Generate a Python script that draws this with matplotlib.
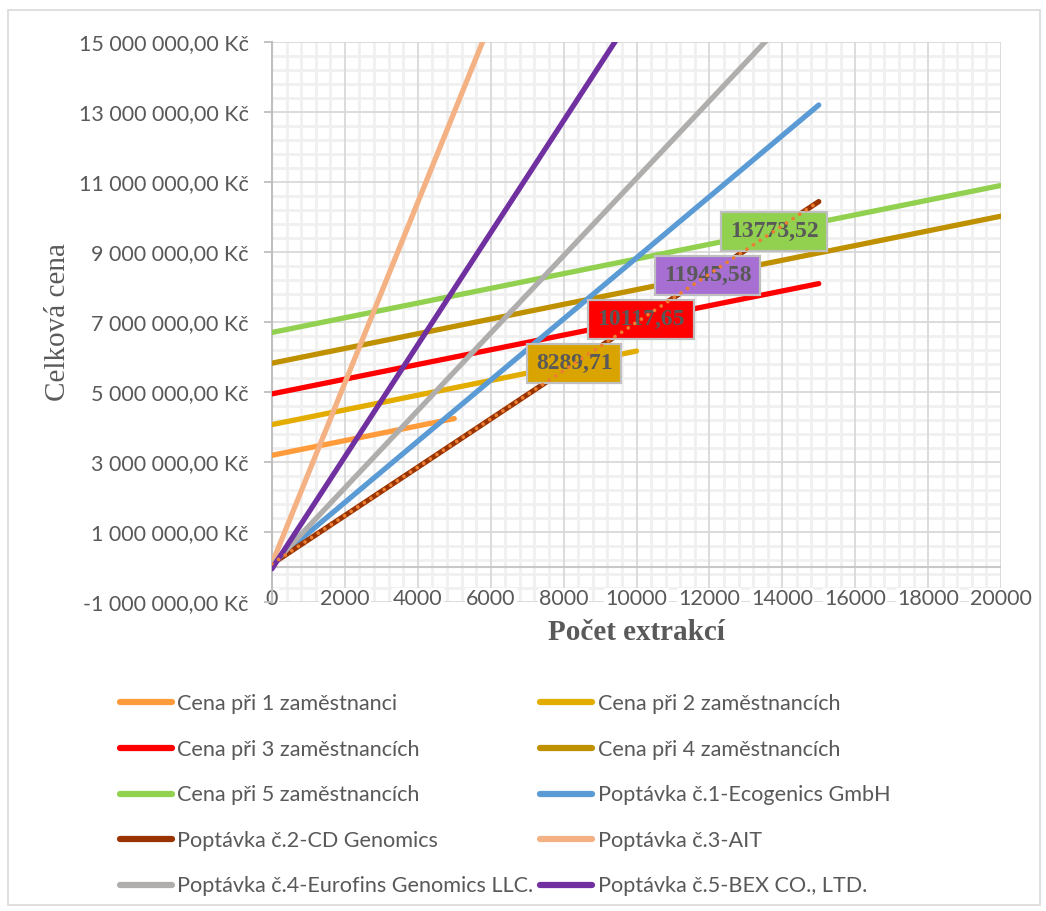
import matplotlib
matplotlib.use("Agg")
import matplotlib.pyplot as plt
import numpy as np
from matplotlib.ticker import FuncFormatter
from matplotlib.lines import Line2D
from matplotlib.patches import Rectangle

# ---- data -------------------------------------------------------------
names = [
    "Cena při 1 zaměstnanci",
    "Cena při 2 zaměstnancích",
    "Cena při 3 zaměstnancích",
    "Cena při 4 zaměstnancích",
    "Cena při 5 zaměstnancích",
    "Poptávka č.1-Ecogenics GmbH",
    "Poptávka č.2-CD Genomics",
    "Poptávka č.3-AIT",
    "Poptávka č.4-Eurofins Genomics LLC.",
    "Poptávka č.5-BEX CO., LTD.",
]
colors = ["#FF9B3B", "#E2AC00", "#FF0000", "#BF9000", "#92D050",
          "#5B9BD5", "#993300", "#F4B183", "#B0AEAC", "#7030A0"]

emp1_x = [0, 5000]
emp1_y = [3_191_650, 4_241_650]
emp2_x = [0, 10000]
emp2_y = [4_069_060, 6_169_060]
emp3_x = [0, 15000]
emp3_y = [4_946_470, 8_096_470]
emp4_x = [0, 20000]
emp4_y = [5_823_880, 10_023_880]
emp5_x = [0, 20000]
emp5_y = [6_701_290, 10_901_290]
eco_x = [0, 15000]
eco_y = [100_000, 13_200_000]
cd_x = [0, 15000]
cd_y = [90_000, 10_440_000]
ait_x = [0, 6000]
ait_y = [100_000, 15_580_000]
euro_x = [0, 15000]
euro_y = [50_000, 16_630_000]
bex_x = [0, 10000]
bex_y = [-50_000, 15_950_000]

break_even = [8289.71, 10117.65, 11945.58, 13773.52]
break_even_text = ["8289,71", "10117,65", "11945,58", "13773,52"]
break_even_fill = ["#D9A400", "#FF0000", "#A66FD1", "#92D050"]

x_ticks = list(range(0, 20001, 2000))
y_ticks = list(range(-1_000_000, 15_000_001, 2_000_000))

# ---- styling ----------------------------------------------------------
SANS = ["Lato", "DejaVu Sans"]
SERIF = ["Liberation Serif", "DejaVu Serif"]
TXT = "#595959"

W, H = 1046, 911
fig = plt.figure(figsize=(W / 100, H / 100), dpi=100)
fig.patch.set_facecolor("white")

# chart-area border
fig.add_artist(Rectangle((8 / W, 1 - 905 / H), (1040 - 8) / W, (905 - 10) / H,
                         transform=fig.transFigure, fill=False,
                         edgecolor="#D9D9D9", linewidth=1.2))

ax = fig.add_axes([272 / W, 1 - 602 / H, 729 / W, 560 / H])
ax.set_xlim(0, 20000)
ax.set_ylim(-1_000_000, 15_000_000)
ax.set_axisbelow(True)

# grid lines drawn as separate artists so tick labels stay on top of them
for xv in np.arange(0, 20001, 400):
    if xv % 2000:
        ax.axvline(xv, color="#F0F0F0", linewidth=2.0, zorder=0.1)
for yv in np.arange(-1_000_000, 15_000_001, 400_000):
    if (yv + 1_000_000) % 2_000_000:
        ax.axhline(yv, color="#F0F0F0", linewidth=2.0, zorder=0.1)
for xv in x_ticks:
    ax.axvline(xv, color="#D9D9D9", linewidth=1.3, zorder=0.2)
for yv in y_ticks:
    ax.axhline(yv, color="#D9D9D9", linewidth=1.3, zorder=0.2)
ax.axhline(0, color="#C8C8C8", linewidth=1.5, zorder=0.3)

for s in ["top", "right", "bottom"]:
    ax.spines[s].set_visible(False)
ax.spines["left"].set_color("#BFBFBF")
ax.spines["left"].set_linewidth(1.5)


def czk(v, _):
    s = f"{abs(v):,.2f}".replace(",", " ").replace(".", ",")
    return ("-" if v < 0 else "") + s + " Kč"


ax.set_yticks(y_ticks)
ax.yaxis.set_major_formatter(FuncFormatter(czk))
ax.set_xticks(x_ticks)
ax.set_xticklabels([str(t) for t in x_ticks])
ax.tick_params(axis="y", which="major", length=6, width=1.3, color="#BFBFBF",
               pad=11, labelsize=15.5, labelcolor=TXT, labelfontfamily=SANS)
ax.tick_params(axis="x", which="major", length=0, pad=-9.5,
               labelsize=15.5, labelcolor=TXT, labelfontfamily=SANS)
for tick in ax.xaxis.get_major_ticks():
    tick.label1.set_bbox(dict(boxstyle="square,pad=0.05", facecolor="white",
                              edgecolor="none"))

# series
series = [(emp1_x, emp1_y), (emp2_x, emp2_y), (emp3_x, emp3_y),
          (emp4_x, emp4_y), (emp5_x, emp5_y), (eco_x, eco_y),
          (cd_x, cd_y), (ait_x, ait_y), (euro_x, euro_y), (bex_x, bex_y)]
for i, ((xs, ys), name, c) in enumerate(zip(series, names, colors)):
    ax.plot(xs, ys, color=c, linewidth=3.8, solid_capstyle="round",
            label=name, zorder=3 + i * 0.01)

# dotted linear trend over CD Genomics
ax.plot(cd_x, cd_y, color="#ED7D31", linewidth=2.7,
        linestyle=(0, (0.01, 2.1)), dash_capstyle="round", zorder=6)

# break-even labels on the CD Genomics line
for xv, txt, fc in zip(break_even, break_even_text, break_even_fill):
    yv = np.interp(xv, cd_x, cd_y)
    ax.text(xv, yv, txt, ha="center", va="center", family=SERIF,
            fontweight="bold", fontsize=17, color=TXT, zorder=5,
            bbox=dict(boxstyle="square,pad=0.38", facecolor=fc,
                      edgecolor="#BFBFBF", linewidth=1.6))

# axis titles
fig.text(58 / W, 1 - 322 / H, "Celková cena", rotation=90, ha="center",
         va="center", family=SERIF, fontsize=21, color=TXT)
fig.text(636 / W, 1 - 633 / H, "Počet extrakcí", ha="center", va="center",
         family=SERIF, fontsize=21, fontweight="bold", color=TXT)

# legend: rows read left-to-right
order = [0, 2, 4, 6, 8, 1, 3, 5, 7, 9]
leg_handles = [Line2D([], [], color=colors[k], linewidth=4.5,
                      solid_capstyle="round") for k in order]
leg = fig.legend(leg_handles, [names[k] for k in order], ncol=2,
                 loc="upper left", bbox_to_anchor=(120 / W, 1 - 694 / H),
                 frameon=False, prop={"family": SANS, "size": 15.6},
                 handlelength=2.4, handletextpad=0.25, columnspacing=0.3,
                 labelspacing=1.18, borderaxespad=0, borderpad=0)
for t in leg.get_texts():
    t.set_color(TXT)

fig.savefig("out.png", dpi=100, facecolor="white")
